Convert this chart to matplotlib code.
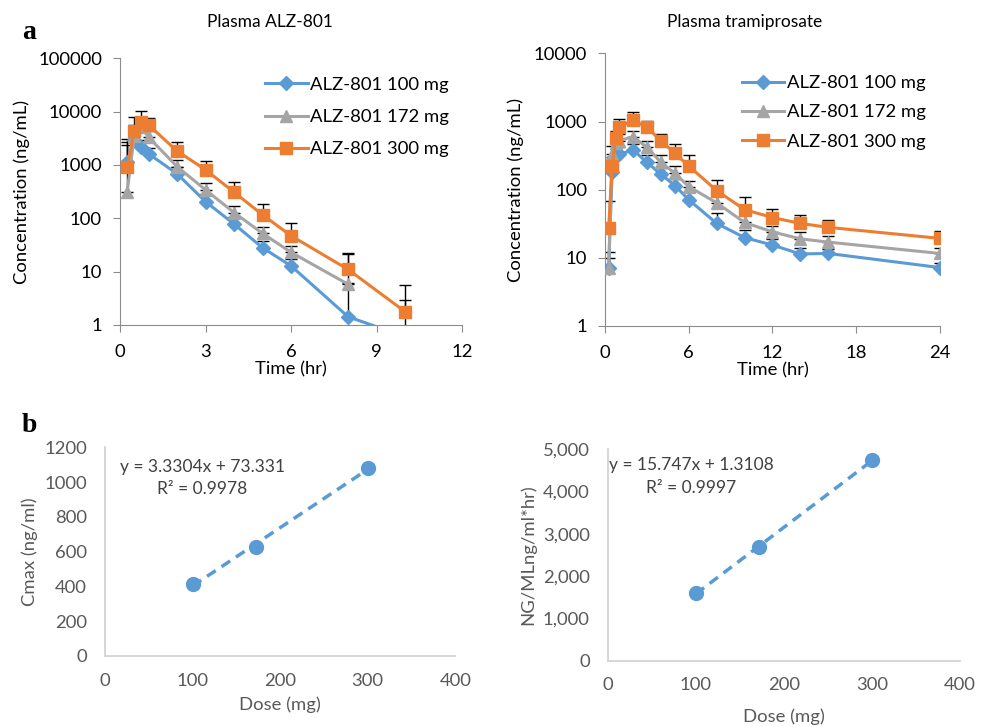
import numpy as np
import matplotlib
matplotlib.use("Agg")
import matplotlib.pyplot as plt
from matplotlib.ticker import FixedLocator, NullLocator, FuncFormatter

plt.rcParams['font.family'] = ['Lato', 'DejaVu Sans']

# ---- panel a : plasma ALZ-801 ----
t_alz = [0.25, 0.5, 0.75, 1, 2, 3, 4, 5, 6, 8, 10]
alz_100 = [1150, 2900, 2200, 1620, 680, 205, 78, 28, 12.8, 1.43, 0.6]
alz_172 = [316, 3500, 5100, 3300, 930, 340, 128, 52, 23, 5.8]
alz_300 = [910, 4400, 6500, 5600, 1820, 810, 308, 116, 47, 11, 1.78]
alz_100_up = [2700, 4200, 2900, 2100, 900, 280, 105, 38, 17, 6, 2.9]
alz_172_up = [2370, 5600, 7600, 4300, 1250, 466, 170, 68, 30, 21]
alz_300_up = [3000, 7800, 10300, 7500, 2730, 1200, 487, 185, 83, 22, 5.6]

# ---- panel a : plasma tramiprosate ----
t_tra = [0.25, 0.5, 0.75, 1, 2, 3, 4, 5, 6, 8, 10, 12, 14, 16, 24]
tra_100 = [7, 184, 312, 330, 382, 252, 168, 115, 71, 32, 19.8, 15.4, 11.4, 11.6, 7.2]
tra_172 = [7.2, 330, 480, 520, 600, 418, 252, 174, 111, 64, 33, 24, 19, 17, 11.6]
tra_300 = [27, 222, 566, 821, 1052, 821, 523, 341, 222, 97, 51, 39, 32, 28, 19.3]
tra_100_up = [10, 250, 400, 420, 470, 320, 210, 145, 92, 46, 26, 19, 14, 13.5, 8.5]
tra_172_up = [12, 430, 620, 660, 730, 520, 320, 220, 135, 80, 42, 29, 24, 21, 14]
tra_300_up = [68, 300, 720, 1088, 1394, 1025, 656, 468, 323, 139, 77, 52, 42.5, 36, 24.8]

# ---- panel b ----
dose = [100, 172, 300]
cmax = [415, 625, 1080]
auc = [1600, 2680, 4740]

labels = ['ALZ-801 100 mg', 'ALZ-801 172 mg', 'ALZ-801 300 mg']
colors = ['#5B9BD5', '#A5A5A5', '#ED7D31']
markers = ['D', '^', 's']
msizes = [7, 9, 9]

FS = 13.3

fig = plt.figure(figsize=(9.84, 7.27), dpi=100)


def pk_panel(ax, t, series, ups, xticks, ylim_top, ylab_x, leg_xy, leg_sp):
    for i, (y, up) in enumerate(zip(series, ups)):
        tt = t[:len(y)]
        y = np.array(y, dtype=float)
        err = np.array(up) - y
        ax.errorbar(tt, y, yerr=[np.zeros_like(err), err], fmt='none',
                    ecolor='black', elinewidth=1, capsize=4, capthick=1, zorder=1)
    for i, y in enumerate(series):
        tt = t[:len(y)]
        ax.plot(tt, y, color=colors[i], marker=markers[i], markersize=msizes[i],
                lw=2.2, label=labels[i], zorder=2 + i)
    ax.set_yscale('log')
    ax.set_ylim(1, ylim_top)
    ax.set_xlim(0, xticks[-1])
    ax.set_xticks(xticks)
    decades = [10 ** k for k in range(int(np.log10(ylim_top)) + 1)]
    ax.yaxis.set_major_locator(FixedLocator(decades))
    ax.yaxis.set_minor_locator(NullLocator())
    ax.yaxis.set_major_formatter(FuncFormatter(lambda v, p: '%d' % v))
    for s in ['top', 'right']:
        ax.spines[s].set_visible(False)
    for s in ['left', 'bottom']:
        ax.spines[s].set_color('#8C8C8C')
    ax.tick_params(axis='x', direction='out', length=5, color='#8C8C8C', pad=9, labelsize=FS)
    ax.tick_params(axis='y', direction='out', length=5, color='#8C8C8C', pad=8, labelsize=FS)
    ax.set_ylabel('Concentration (ng/mL)', fontsize=FS, va='center')
    ax.yaxis.set_label_coords(ylab_x, 0.5)
    ax.set_xlabel('Time (hr)', fontsize=FS, va='top')
    ax.xaxis.set_label_coords(0.5, -0.135)
    ax.legend(loc='upper left', bbox_to_anchor=leg_xy, frameon=False, fontsize=FS,
              handlelength=2.3, handletextpad=0.15, labelspacing=leg_sp,
              borderpad=0, borderaxespad=0)


ax1 = fig.add_axes([0.122, 0.553, 0.3475, 0.367])
pk_panel(ax1, t_alz, [alz_100, alz_172, alz_300], [alz_100_up, alz_172_up, alz_300_up],
         [0, 3, 6, 9, 12], 1e5, -0.287, (0.424, 0.93), 0.88)

ax2 = fig.add_axes([0.615, 0.5516, 0.340, 0.375])
pk_panel(ax2, t_tra, [tra_100, tra_172, tra_300], [tra_100_up, tra_172_up, tra_300_up],
         [0, 6, 12, 18, 24], 1e4, -0.266, (0.409, 0.92), 0.72)

fig.text(270 / 984, 1 - 22 / 727, 'Plasma ALZ-801', ha='center', va='center', fontsize=12.5)
fig.text(745 / 984, 1 - 22 / 727, 'Plasma tramiprosate', ha='center', va='center', fontsize=12.5)


def dose_panel(ax, y, ylim, ystep, ylabel, eq, r2, txy, fmt, ylab_x, xlab_y):
    coef = np.polyfit(dose, y, 1)
    xx = np.array([dose[0], dose[-1]])
    ax.plot(xx, np.polyval(coef, xx), '--', color='#5B9BD5', lw=2.5, dashes=(3, 2))
    ax.plot(dose, y, 'o', color='#5B9BD5', markersize=10)
    ax.set_xlim(0, 400)
    ax.set_ylim(0, ylim)
    ax.set_xticks(range(0, 401, 100))
    ax.set_yticks(np.arange(0, ylim + 1, ystep))
    ax.yaxis.set_major_formatter(FuncFormatter(fmt))
    for s in ['top', 'right']:
        ax.spines[s].set_visible(False)
    for s in ['left', 'bottom']:
        ax.spines[s].set_color('#D0D0D0')
        ax.spines[s].set_linewidth(1.2)
    ax.tick_params(axis='y', length=0, labelsize=FS, labelcolor='#595959', pad=13)
    ax.tick_params(axis='x', length=0, labelsize=FS, labelcolor='#595959', pad=12)
    ax.set_xlabel('Dose (mg)', fontsize=FS, color='#595959', va='center')
    ax.xaxis.set_label_coords(0.5, xlab_y)
    ax.set_ylabel(ylabel, fontsize=FS, color='#595959', va='center')
    ax.yaxis.set_label_coords(ylab_x, 0.5)
    ax.text(txy[0], txy[1], eq, ha='center', va='center', fontsize=12.5, color='#404040')
    ax.text(txy[0], txy[2], r2, ha='center', va='center', fontsize=12.5, color='#404040')


ax3 = fig.add_axes([0.1067, 0.0977, 0.356, 0.287])
dose_panel(ax3, cmax, 1200, 200, 'Cmax (ng/ml)', 'y = 3.3304x + 73.331', 'R² = 0.9978',
           (111, 1087, 960), lambda v, p: '%d' % v, -0.214, -0.235)

ax4 = fig.add_axes([0.6176, 0.0912, 0.358, 0.2908])
dose_panel(ax4, auc, 5000, 1000, 'NG/MLng/ml*hr)', 'y = 15.747x + 1.3108', 'R² = 0.9997',
           (95, 4629, 4092), lambda v, p: '{:,.0f}'.format(v), -0.225, -0.265)

fig.text(0.022, 0.955, 'a', fontsize=20, fontweight='bold', family='Liberation Serif', va='center')
fig.text(0.022, 0.415, 'b', fontsize=20, fontweight='bold', family='Liberation Serif', va='center')

fig.savefig('out.png', dpi=100)
